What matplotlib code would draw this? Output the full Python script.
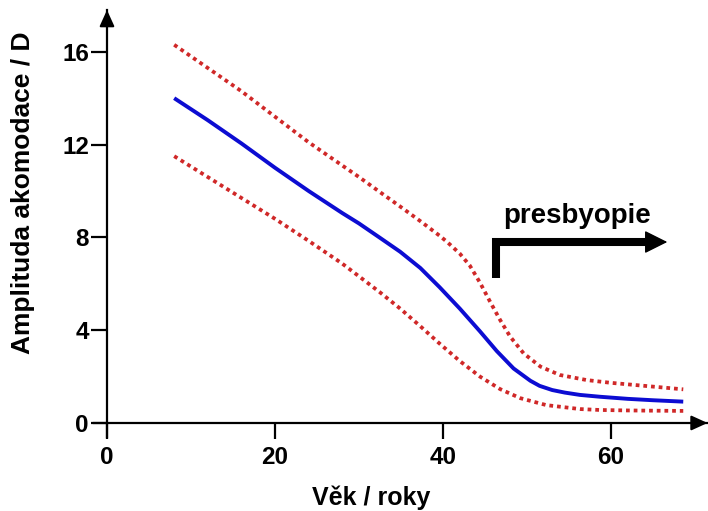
import matplotlib
matplotlib.use("Agg")
import matplotlib.pyplot as plt

plt.rcParams['font.family'] = ['Liberation Sans', 'DejaVu Sans']
plt.rcParams['font.weight'] = 'bold'

# ---- data ----
age_mean = [8, 12, 16, 20, 24, 28, 30, 32.5, 34.9, 37.3, 39.6, 42.0, 44.4, 46.4, 48.4, 50.4,
            51.5, 53.0, 54.5, 56.3, 58.7, 62, 65, 68.6]
amp_mean = [14.0, 13.05, 12.05, 11.0, 10.0, 9.05, 8.6, 7.98, 7.38, 6.68, 5.85, 4.93, 3.95, 3.1,
            2.35, 1.82, 1.6, 1.42, 1.31, 1.21, 1.13, 1.04, 0.98, 0.92]

age_upper = [8, 12, 16, 20, 24, 28, 30, 32.5, 34.9, 37.3, 39.6, 40.5, 42.0, 43.2, 44.4, 45.6,
             46.8, 48.0, 49.6, 51.6, 53.9, 57.1, 60, 64, 68.6]
amp_upper = [16.3, 15.3, 14.3, 13.2, 12.1, 11.1, 10.6, 9.95, 9.33, 8.7, 8.07, 7.8, 7.3, 6.78,
             6.05, 5.23, 4.44, 3.72, 3.0, 2.43, 2.07, 1.85, 1.73, 1.6, 1.45]

age_lower = [8, 12, 16, 20, 24, 28, 30, 32.5, 34.9, 37.3, 39.6, 42.0, 44.4, 46.8, 49.2, 52.3,
             56.3, 58.7, 62, 65, 68.6]
amp_lower = [11.5, 10.6, 9.7, 8.8, 7.85, 6.87, 6.32, 5.63, 4.93, 4.17, 3.42, 2.67, 2.0, 1.46,
             1.07, 0.77, 0.6, 0.56, 0.54, 0.53, 0.52]

x_ticks = [0, 20, 40, 60]
y_ticks = [0, 4, 8, 12, 16]
x_label = "Věk / roky"
y_label = "Amplituda akomodace / D"
note_text = "presbyopie"
note_start_age = 46.3
note_y_bottom = 6.25
note_y_level = 7.8
note_tip_age = 66.7

XLIM = (-1.5, 71.5)
YLIM = (-0.6, 17.8)

fig = plt.figure(figsize=(7.08, 5.11), dpi=100)
ax = fig.add_axes([94.4 / 708, 1 - 436.9 / 511, 613.2 / 708, 426.9 / 511])
ax.set_xlim(*XLIM)
ax.set_ylim(*YLIM)

ax.plot(age_upper, amp_upper, color='#d02828', lw=2.7, linestyle=(0, (1, 1.05)))
ax.plot(age_lower, amp_lower, color='#d02828', lw=2.7, linestyle=(0, (1, 1.05)))
ax.plot(age_mean, amp_mean, color='#0c0cd2', lw=2.8, solid_capstyle='butt',
        solid_joinstyle='round')

# axes as crossing spines at zero
for s in ['top', 'right']:
    ax.spines[s].set_visible(False)
ax.spines['left'].set_position(('data', 0))
ax.spines['bottom'].set_position(('data', 0))
for s in ['left', 'bottom']:
    ax.spines[s].set_linewidth(1.6)
ax.set_xticks(x_ticks)
ax.set_yticks(y_ticks)
ax.tick_params(axis='both', direction='out', length=11.5, width=1.6, labelsize=17.5)
ax.tick_params(axis='x', pad=5)
ax.tick_params(axis='y', pad=1.5)
for lab in ax.get_xticklabels() + ax.get_yticklabels():
    lab.set_fontweight('bold')

# axis arrowheads
ax.annotate('', xy=(XLIM[1], 0), xytext=(XLIM[1] - 1.6, 0),
            arrowprops=dict(arrowstyle='-|>,head_length=0.55,head_width=0.25', color='k',
                            lw=1.5, shrinkA=0, shrinkB=0, mutation_scale=18),
            annotation_clip=False)
ax.annotate('', xy=(0, YLIM[1]), xytext=(0, YLIM[1] - 0.6),
            arrowprops=dict(arrowstyle='-|>,head_length=0.55,head_width=0.25', color='k',
                            lw=1.5, shrinkA=0, shrinkB=0, mutation_scale=18),
            annotation_clip=False)

# presbyopia arrow
ax.plot([note_start_age, note_start_age, note_tip_age - 2.0],
        [note_y_bottom, note_y_level, note_y_level],
        color='k', lw=5.8, solid_joinstyle='miter', solid_capstyle='butt')
ax.annotate('', xy=(note_tip_age, note_y_level), xytext=(note_tip_age - 2.5, note_y_level),
            arrowprops=dict(arrowstyle='-|>,head_length=0.72,head_width=0.36', color='k',
                            lw=1, shrinkA=0, shrinkB=0, mutation_scale=20))
ax.text(56.0, 8.6, note_text, ha='center', va='baseline', fontsize=20, fontweight='bold')

fig.text(371 / 708, 6 / 511, x_label, ha='center', va='baseline', fontsize=18, fontweight='bold')
fig.text(23 / 708, 1 - 193 / 511, y_label, ha='center', va='center', rotation=90,
         fontsize=19, fontweight='bold')

fig.savefig('out.png', dpi=100)
